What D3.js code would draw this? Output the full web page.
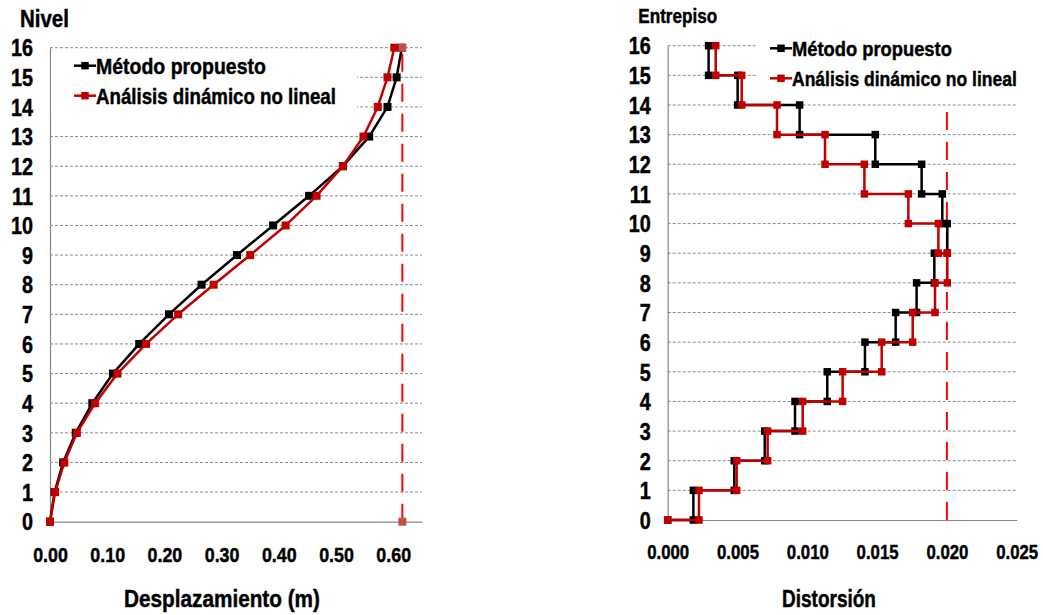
<!DOCTYPE html>
<html><head><meta charset="utf-8">
<script src="https://cdn.jsdelivr.net/npm/d3@7"></script>
<style>
body{margin:0;background:#fff}
svg{display:block}
text{font-family:"Liberation Sans",Arial,sans-serif;font-weight:bold;fill:#000;stroke:#000;stroke-width:0.45px}
</style>
</head><body>
<svg id="c" width="1043" height="615"></svg>
<script>
// ---------- data ----------
const levelTicks = [0,1,2,3,4,5,6,7,8,9,10,11,12,13,14,15,16];
const dispTicks = [0.0,0.1,0.2,0.3,0.4,0.5,0.6];
const driftTicks = [0.000,0.005,0.010,0.015,0.020,0.025];
const levels = [0,1,2,3,4,5,6,7,8,9,10,11,12,13,14,15,16];
const dispMetodo   = [0,0.008,0.023,0.045,0.074,0.110,0.156,0.208,0.265,0.327,0.390,0.453,0.512,0.558,0.590,0.606,0.615];
const dispAnalisis = [0,0.009,0.025,0.047,0.079,0.118,0.168,0.224,0.286,0.350,0.412,0.466,0.512,0.548,0.573,0.590,0.602];
const dispLimit = 0.616;
const stories = [1,2,3,4,5,6,7,8,9,10,11,12,13,14,15,16];
const driftMetodo   = [0.00184,0.00477,0.00695,0.00912,0.01143,0.01413,0.01633,0.01783,0.01910,0.02003,0.01967,0.01819,0.01487,0.00945,0.00501,0.00293];
const driftAnalisis = [0.00224,0.00494,0.00716,0.00967,0.01253,0.01533,0.01755,0.01915,0.02003,0.01939,0.01724,0.01409,0.01127,0.00783,0.00530,0.00344];
const driftLimit = 0.020;
const seriesNames = ["Método propuesto","Análisis dinámico no lineal"];

// ---------- styles ----------
const BLACK = "#000000", RED = "#c00000", LIMIT = "#ff0000", LIMITMK = "#c0504d";
const GRID = "#8a8a8a", AXIS = "#868686";

const svg = d3.select("#c");

// horizontally scale a text about its anchor x so that it spans width w
function scaleText(node, s){
  const x = +(node.getAttribute("x") || 0);
  node.setAttribute("transform", `translate(${x},0) scale(${s},1) translate(${-x},0)`);
}
function fitWidth(sel, w){ sel.each(function(){ scaleText(this, w/this.getComputedTextLength()); }); }
function squeeze(sel, f){ sel.each(function(){ scaleText(this, f); }); }

function drawFrame(g, x, y, xTicks, xFmt, xPad, xSq){
  const [x0,x1] = x.range();
  g.append("g").selectAll("line").data(levelTicks.filter(d=>d>0)).join("line")
    .attr("x1",x0).attr("x2",x1).attr("y1",d=>y(d)).attr("y2",d=>y(d))
    .attr("stroke",GRID).attr("stroke-width",1).attr("stroke-dasharray","3,2");
  const ya = g.append("g").attr("transform",`translate(${x0},0)`)
    .call(d3.axisLeft(y).tickValues(levelTicks).tickFormat(d3.format("d")).tickSize(0).tickSizeOuter(0).tickPadding(17));
  const xa = g.append("g").attr("transform",`translate(0,${y(0)})`)
    .call(d3.axisBottom(x).tickValues(xTicks).tickFormat(xFmt).tickSize(0).tickSizeOuter(0).tickPadding(xPad));
  [ya,xa].forEach(a=>{
    a.attr("font-size",null).attr("font-family",null);
    a.select(".domain").attr("stroke",AXIS).attr("stroke-width",1.2);
    a.selectAll("text").attr("fill","#000");
  });
  ya.selectAll("text").style("font-size","23px").attr("dy","0.36em");
  squeeze(ya.selectAll("text"),0.86);
  xa.selectAll("text").style("font-size","21px").attr("dy","0.72em");
  squeeze(xa.selectAll("text"),xSq);
}

function drawSeries(g, pts, x, y, color, mk){
  g.append("path").datum(pts)
    .attr("d", d3.line().x(d=>x(d[0])).y(d=>y(d[1])))
    .attr("fill","none").attr("stroke",color).attr("stroke-width",2.5).attr("stroke-linejoin","round");
  g.append("g").selectAll("rect").data(pts).join("rect")
    .attr("x",d=>x(d[0])-mk/2).attr("y",d=>y(d[1])-mk/2).attr("width",mk).attr("height",mk).attr("fill",color);
}

function drawLegend(g, x0, y0, rowH, box, fs, widths){
  g.append("rect").attr("x",box[0]).attr("y",box[1]).attr("width",box[2]).attr("height",box[3]).attr("fill","#fff");
  [BLACK,RED].forEach((c,i)=>{
    const yy = y0 + i*rowH;
    g.append("line").attr("x1",x0).attr("x2",x0+22).attr("y1",yy).attr("y2",yy).attr("stroke",c).attr("stroke-width",2.5);
    g.append("rect").attr("x",x0+11-3.75).attr("y",yy-3.75).attr("width",7.5).attr("height",7.5).attr("fill",c);
    const t = g.append("text").attr("x",x0+22).attr("y",yy+8).style("font-size",fs+"px").text(seriesNames[i]);
    fitWidth(t, widths[i]);
  });
}

// ---------- left chart ----------
{
  const g = svg.append("g");
  const x = d3.scaleLinear().domain([0,0.65]).range([50,421.8]);
  const y = d3.scaleLinear().domain([0,16]).range([521.7,47.7]);
  drawFrame(g, x, y, dispTicks, d3.format(".2f"), 25, 0.85);
  g.append("line").attr("x1",x(dispLimit)).attr("x2",x(dispLimit)).attr("y1",y(0)).attr("y2",y(16))
    .attr("stroke",LIMIT).attr("stroke-width",2).attr("stroke-dasharray","18,12");
  drawSeries(g, levels.map((l,i)=>[dispMetodo[i],l]), x, y, BLACK, 8);
  drawSeries(g, levels.map((l,i)=>[dispAnalisis[i],l]), x, y, RED, 8);
  g.append("g").selectAll("rect").data([[dispLimit,0],[dispLimit,16]]).join("rect")
    .attr("x",d=>x(d[0])-4).attr("y",d=>y(d[1])-4).attr("width",8).attr("height",8).attr("fill",LIMITMK);
  drawLegend(g, 74, 65.7, 30, [51,52,306,62], 22, [170,240]);
  fitWidth(g.append("text").attr("x",20).attr("y",27).style("font-size","23px").text("Nivel"), 49);
  fitWidth(g.append("text").attr("x",222).attr("y",607).attr("text-anchor","middle").style("font-size","24px").text("Desplazamiento (m)"), 196);
}

// ---------- right chart ----------
{
  const g = svg.append("g");
  const x = d3.scaleLinear().domain([0,0.025]).range([667.7,1016.7]);
  const y = d3.scaleLinear().domain([0,16]).range([520,45.7]);
  drawFrame(g, x, y, driftTicks, d3.format(".3f"), 24, 0.8);
  g.append("line").attr("x1",x(driftLimit)).attr("x2",x(driftLimit)).attr("y1",y(0)).attr("y2",y(16))
    .attr("stroke",LIMIT).attr("stroke-width",2).attr("stroke-dasharray","18,12");
  const steps = arr => { const p=[[0,0]]; stories.forEach((s,i)=>{ p.push([arr[i],s-1]); p.push([arr[i],s]); }); return p; };
  drawSeries(g, steps(driftMetodo), x, y, BLACK, 7.5);
  drawSeries(g, steps(driftAnalisis), x, y, RED, 7.5);
  drawLegend(g, 770, 48.3, 30, [757,30,284,70], 21, [160,225]);
  fitWidth(g.append("text").attr("x",638.3).attr("y",23.5).style("font-size","20px").text("Entrepiso"), 79);
  fitWidth(g.append("text").attr("x",829).attr("y",607).attr("text-anchor","middle").style("font-size","24px").text("Distorsión"), 94);
}
</script>
</body></html>
